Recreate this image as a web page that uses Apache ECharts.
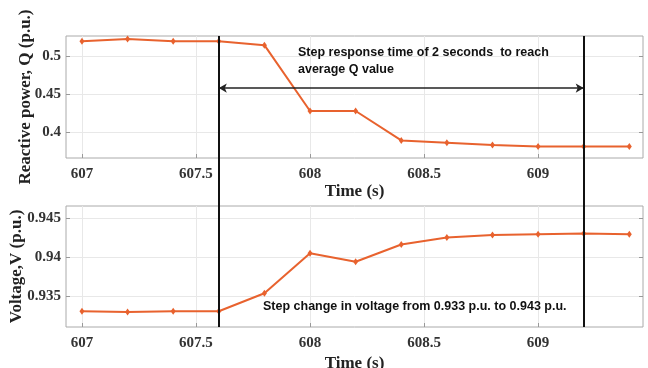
<!DOCTYPE html>
<html>
<head>
<meta charset="utf-8">
<script src="https://cdn.jsdelivr.net/npm/echarts@6/dist/echarts.min.js"></script>
<style>
html, body { margin: 0; padding: 0; background: #fff; }
#chart { width: 648px; height: 368px; }
</style>
</head>
<body>
<div id="chart"></div>
<script>
// data
var timeS = [607, 607.2, 607.4, 607.6, 607.8, 608, 608.2, 608.4, 608.6, 608.8, 609, 609.2, 609.4];
var reactiveQ = [0.519, 0.522, 0.519, 0.519, 0.514, 0.4276, 0.4276, 0.389, 0.386, 0.383, 0.381, 0.381, 0.381];
var voltageV = [0.9331, 0.9330, 0.9331, 0.9331, 0.9354, 0.9405, 0.9394, 0.9416, 0.9425, 0.9428, 0.9429, 0.9430, 0.9429];
var xTicks = [607, 607.5, 608, 608.5, 609];
var qTicks = [0.4, 0.45, 0.5];
var vTicks = [0.935, 0.94, 0.945];
var stepTimes = [607.6, 609.2];
var arrowQ = 0.4577;

var serif = '"Liberation Serif", "Times New Roman", serif';
var sans = '"Liberation Sans", Arial, sans-serif';
var lineColor = '#E8622E';

function pairs(xs, ys) {
    var out = [];
    for (var i = 0; i < xs.length; i++) out.push([xs[i], ys[i]]);
    return out;
}

function xAxisCfg(gridIndex) {
    return {
        type: 'value', gridIndex: gridIndex,
        min: 606.93, max: 609.46,
        name: 'Time (s)', nameLocation: 'middle', nameGap: gridIndex === 0 ? 25 : 28,
        nameMoveOverlap: false,
        nameTextStyle: { fontFamily: serif, fontWeight: 'bold', fontSize: 17, color: '#222' },
        axisLine: { show: false },
        axisTick: { inside: true, length: 4, customValues: xTicks, lineStyle: { color: '#999' } },
        axisLabel: { customValues: xTicks, fontFamily: serif, fontWeight: 'bold', fontSize: 15, color: '#333', margin: 9 },
        splitLine: { show: true, lineStyle: { color: '#e8e8e8', width: 1 } }
    };
}

function yAxisCfg(gridIndex, min, max, ticks, name, gap) {
    return {
        type: 'value', gridIndex: gridIndex, min: min, max: max,
        name: name, nameLocation: 'middle', nameGap: gap,
        nameMoveOverlap: false,
        nameTextStyle: { fontFamily: serif, fontWeight: 'bold', fontSize: 17, color: '#222' },
        axisLine: { show: false },
        axisTick: { show: true, inside: true, length: 4, customValues: ticks, lineStyle: { color: '#999' } },
        axisLabel: { customValues: ticks, fontFamily: serif, fontWeight: 'bold', fontSize: 15, color: '#333', margin: 5 },
        splitLine: { show: true, lineStyle: { color: '#e8e8e8', width: 1 } }
    };
}

function rightAxisCfg(gridIndex, min, max, ticks) {
    return {
        type: 'value', gridIndex: gridIndex, min: min, max: max, position: 'right',
        axisLine: { show: false },
        axisTick: { show: true, inside: true, length: 4, customValues: ticks, lineStyle: { color: '#999' } },
        axisLabel: { show: false },
        splitLine: { show: false }
    };
}

var chart = echarts.init(document.getElementById('chart'), null, { renderer: 'canvas' });

var option = {
    animation: false,
    backgroundColor: '#fff',
    grid: [
        { left: 66, right: 5, top: 36, height: 122, outerBoundsMode: 'none', show: true, borderColor: '#aaa', borderWidth: 1, backgroundColor: 'transparent' },
        { left: 66, right: 5, top: 206, height: 121, outerBoundsMode: 'none', show: true, borderColor: '#aaa', borderWidth: 1, backgroundColor: 'transparent' }
    ],
    xAxis: [xAxisCfg(0), xAxisCfg(1)],
    yAxis: [
        yAxisCfg(0, 0.366, 0.526, qTicks, 'Reactive power, Q (p.u.)', 32),
        yAxisCfg(1, 0.9311, 0.9465, vTicks, 'Voltage,V (p.u.)', 41),
        rightAxisCfg(0, 0.366, 0.526, qTicks),
        rightAxisCfg(1, 0.9311, 0.9465, vTicks)
    ],
    series: [
        {
            type: 'line', xAxisIndex: 0, yAxisIndex: 0,
            data: pairs(timeS, reactiveQ),
            symbol: 'diamond', symbolSize: [5, 7],
            lineStyle: { color: lineColor, width: 2 },
            itemStyle: { color: lineColor },
            markLine: {
                silent: true,
                symbol: ['arrow', 'arrow'],
                symbolSize: [7, 8],
                label: { show: false },
                lineStyle: { color: '#222', width: 1.5, type: 'solid' },
                data: [[{ coord: [stepTimes[0], arrowQ] }, { coord: [stepTimes[1], arrowQ] }]]
            }
        },
        {
            type: 'line', xAxisIndex: 1, yAxisIndex: 1,
            data: pairs(timeS, voltageV),
            symbol: 'diamond', symbolSize: [5, 7],
            lineStyle: { color: lineColor, width: 2 },
            itemStyle: { color: lineColor }
        }
    ]
};

chart.setOption(option);

// vertical step lines across both plots and the annotations
var yTop = chart.convertToPixel({ yAxisIndex: 0 }, 0.526);
var yBottom = chart.convertToPixel({ yAxisIndex: 1 }, 0.9311);
var graphics = [];
stepTimes.forEach(function (t) {
    var x = Math.round(chart.convertToPixel({ xAxisIndex: 0 }, t));
    graphics.push({
        type: 'line', z: 100,
        shape: { x1: x, y1: yTop, x2: x, y2: yBottom },
        style: { stroke: '#111', lineWidth: 2 }
    });
});
graphics.push({
    type: 'text', left: 298, top: 44, z: 100,
    style: {
        text: 'Step response time of 2 seconds  to reach\naverage Q value',
        font: 'bold 12.5px ' + sans, fill: '#111', lineHeight: 17
    }
});
graphics.push({
    type: 'text', left: 263, top: 300, z: 100,
    style: {
        text: 'Step change in voltage from 0.933 p.u. to 0.943 p.u.',
        font: 'bold 12.5px ' + sans, fill: '#111'
    }
});
chart.setOption({ graphic: graphics });
</script>
</body>
</html>
